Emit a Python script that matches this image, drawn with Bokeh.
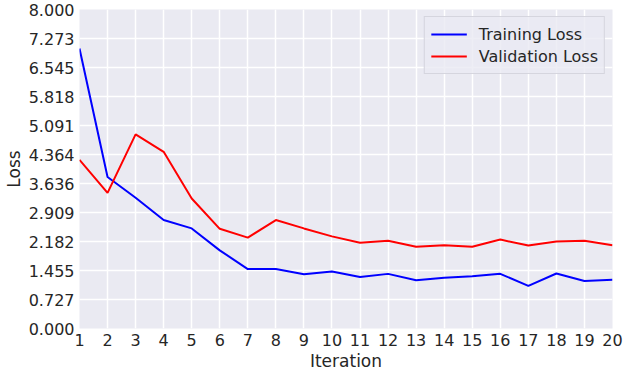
from bokeh.plotting import figure
from bokeh.models import FixedTicker, Range1d, Legend, LegendItem
from bokeh.embed import file_html
from bokeh.resources import INLINE

iterations = list(range(1, 21))
training_loss = [7.02, 3.80, 3.28, 2.72, 2.51, 1.96, 1.49, 1.49, 1.36, 1.43,
                 1.29, 1.37, 1.21, 1.27, 1.31, 1.37, 1.07, 1.38, 1.19, 1.22]
validation_loss = [4.23, 3.40, 4.87, 4.43, 3.26, 2.50, 2.28, 2.72, 2.51, 2.31,
                   2.15, 2.20, 2.05, 2.09, 2.05, 2.23, 2.08, 2.18, 2.20, 2.09]
y_tick_labels = ["0.000", "0.727", "1.455", "2.182", "2.909", "3.636",
                 "4.364", "5.091", "5.818", "6.545", "7.273", "8.000"]
x_tick_labels = [str(i) for i in iterations]

FONT = "DejaVu Sans"
TXT = "#262626"
BG = "#EAEAF2"

p = figure(width=624, height=373, output_backend="svg", toolbar_location=None,
           x_range=Range1d(1, 20), y_range=Range1d(0, 8),
           min_border_left=0, min_border_right=12, min_border_top=9, min_border_bottom=0)
p.background_fill_color = BG
p.border_fill_color = "white"
p.outline_line_color = None

y_pos = [i * 8 / 11 for i in range(len(y_tick_labels))]
p.yaxis.ticker = FixedTicker(ticks=y_pos)
p.yaxis.major_label_overrides = {v: s for v, s in zip(y_pos, y_tick_labels)}
p.xaxis.ticker = FixedTicker(ticks=iterations)
p.xaxis.major_label_overrides = {i: s for i, s in zip(iterations, x_tick_labels)}

for ax in (p.xaxis[0], p.yaxis[0]):
    ax.axis_line_color = None
    ax.major_tick_line_color = None
    ax.minor_tick_line_color = None
    ax.major_tick_out = 0
    ax.major_tick_in = 0
    ax.major_label_text_font = FONT
    ax.major_label_text_font_size = "16px"
    ax.major_label_text_color = TXT
    ax.axis_label_text_font = FONT
    ax.axis_label_text_font_size = "17px"
    ax.axis_label_text_font_style = "normal"
    ax.axis_label_text_color = TXT
    ax.major_label_standoff = 5
    ax.axis_label_standoff = 2

p.xaxis.axis_label = "Iteration"
p.yaxis.axis_label = "Loss"

p.xgrid.grid_line_color = "white"
p.ygrid.grid_line_color = "white"
p.xgrid.grid_line_width = 1.5
p.ygrid.grid_line_width = 1.5

r1 = p.line(iterations, training_loss, line_color="blue", line_width=2)
r2 = p.line(iterations, validation_loss, line_color="red", line_width=2)

legend = Legend(items=[LegendItem(label="Training Loss", renderers=[r1]),
                       LegendItem(label="Validation Loss", renderers=[r2])],
                location="top_right")
legend.margin = 7
legend.padding = 6
legend.spacing = 0
legend.glyph_width = 36
legend.glyph_height = 22
legend.label_height = 22
legend.label_standoff = 12
legend.label_text_font = FONT
legend.label_text_font_size = "16px"
legend.label_text_color = TXT
legend.background_fill_color = BG
legend.background_fill_alpha = 0.8
legend.border_line_color = "#d0d0d8"
legend.border_line_alpha = 0.8
p.add_layout(legend)

open("out.html", "w").write(file_html(p, INLINE))
